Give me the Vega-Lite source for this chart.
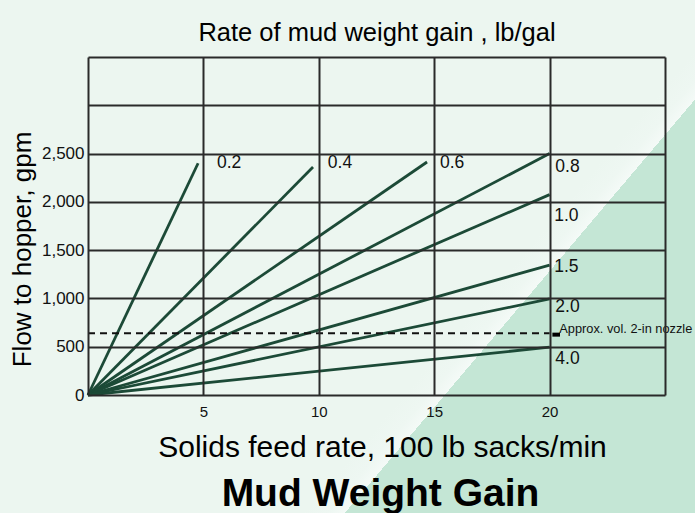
{
  "$schema": "https://vega.github.io/schema/vega-lite/v6.json",
  "width": 577,
  "height": 338,
  "autosize": {"type": "none"},
  "padding": {"left": 88, "top": 57, "right": 30, "bottom": 118},
  "background": "#edf6f1",
  "config": {
    "view": {"stroke": null},
    "font": "Liberation Sans, Arial",
    "text": {"font": "Liberation Sans, Arial"}
  },
  "title": {
    "text": "Mud Weight Gain",
    "orient": "bottom",
    "anchor": "middle",
    "fontSize": 39,
    "fontWeight": "bold",
    "font": "Liberation Sans, Arial",
    "color": "#000000",
    "offset": -38,
    "dx": 4
  },
  "datasets": {
    "lines": [
      {"gain": "0.2", "x": 0, "y": 0}, {"gain": "0.2", "x": 4.77, "y": 2400},
      {"gain": "0.4", "x": 0, "y": 0}, {"gain": "0.4", "x": 9.75, "y": 2360},
      {"gain": "0.6", "x": 0, "y": 0}, {"gain": "0.6", "x": 14.69, "y": 2413},
      {"gain": "0.8", "x": 0, "y": 0}, {"gain": "0.8", "x": 20, "y": 2500},
      {"gain": "1.0", "x": 0, "y": 0}, {"gain": "1.0", "x": 20, "y": 2075},
      {"gain": "1.5", "x": 0, "y": 0}, {"gain": "1.5", "x": 20, "y": 1345},
      {"gain": "2.0", "x": 0, "y": 0}, {"gain": "2.0", "x": 20, "y": 995},
      {"gain": "4.0", "x": 0, "y": 0}, {"gain": "4.0", "x": 20, "y": 495}
    ],
    "labels": [
      {"label": "0.2", "x": 5.59, "y": 2402},
      {"label": "0.4", "x": 10.39, "y": 2402},
      {"label": "0.6", "x": 15.25, "y": 2402},
      {"label": "0.8", "x": 20.25, "y": 2364},
      {"label": "1.0", "x": 20.2, "y": 1853},
      {"label": "1.5", "x": 20.2, "y": 1329},
      {"label": "2.0", "x": 20.25, "y": 914},
      {"label": "4.0", "x": 20.25, "y": 370}
    ],
    "note": [
      {"label": "Approx. vol. 2-in nozzle", "x": 20.42, "y": 683}
    ],
    "dashed": [{"x": 0, "x2": 20, "y": 640}],
    "marker": [{"x": 20.12, "x2": 20.45, "y": 625}]
  },
  "resolve": {"axis": {"x": "independent", "y": "independent"}},
  "layer": [
    {
      "data": {"values": [{}]},
      "mark": {
        "type": "rect",
        "fill": {
          "gradient": "linear",
          "x1": 0.7056, "y1": 0.5705, "x2": 0.7904, "y2": 0.6235,
          "stops": [
            {"offset": 0, "color": "#ecf6f0"},
            {"offset": 0.3, "color": "#eef7f2"},
            {"offset": 0.5, "color": "#f4faf7"},
            {"offset": 0.5, "color": "#c4e6d5"},
            {"offset": 1, "color": "#c4e6d5"}
          ]
        }
      },
      "encoding": {
        "x": {
          "datum": -3.8128, "type": "quantitative",
          "scale": {"domain": [0, 25], "nice": false, "zero": false},
          "axis": {
            "orient": "top",
            "title": "Rate of mud weight gain , lb/gal",
            "labels": false, "ticks": false, "domain": false, "grid": false,
            "titleFontSize": 25.5, "titleFontWeight": "normal",
            "titleFont": "Liberation Sans, Arial",
            "titleColor": "#000000", "titlePadding": 12, "zindex": 1
          }
        },
        "x2": {"datum": 26.3},
        "y": {
          "datum": 4090.2, "type": "quantitative",
          "scale": {"domain": [0, 3500], "nice": false, "zero": false},
          "axis": {
            "orient": "left",
            "values": [0, 500, 1000, 1500, 2000, 2500, 3000, 3500],
            "labelExpr": "datum.value > 2500 ? '' : format(datum.value, ',')",
            "grid": true, "gridColor": "#2a2a2a", "gridWidth": 2, "gridOpacity": 1,
            "ticks": false, "domain": false,
            "labelFontSize": 17, "labelPadding": 4, "labelColor": "#111111",
            "labelFlush": false, "labelOverlap": false,
            "title": "Flow to hopper, gpm",
            "titleFontSize": 26, "titleFontWeight": "normal", "titleColor": "#000000",
            "titleX": -66, "titleY": 192, "titleAngle": -90,
            "titleAlign": "center", "titleBaseline": "middle",
            "zindex": 1
          }
        },
        "y2": {"datum": -1221.9}
      }
    },
    {
      "data": {"name": "lines"},
      "mark": {"type": "line", "color": "#1c4a37", "strokeWidth": 2.8},
      "encoding": {
        "x": {
          "field": "x", "type": "quantitative",
          "scale": {"domain": [0, 25], "nice": false, "zero": false},
          "axis": {
            "orient": "bottom",
            "values": [0, 5, 10, 15, 20, 25],
            "labelExpr": "datum.value == 0 || datum.value == 25 ? '' : datum.label",
            "grid": true, "gridColor": "#2a2a2a", "gridWidth": 2, "gridOpacity": 1,
            "ticks": false, "domain": false,
            "labelFontSize": 15, "labelPadding": 9, "labelColor": "#111111",
            "labelFlush": false, "labelOverlap": false,
            "title": "Solids feed rate, 100 lb sacks/min",
            "titleFontSize": 30, "titleFontWeight": "normal", "titleColor": "#000000",
            "titleX": 294, "titlePadding": 13, "zindex": 1
          }
        },
        "y": {
          "field": "y", "type": "quantitative",
          "scale": {"domain": [0, 3500], "nice": false, "zero": false},
          "axis": null
        },
        "detail": {"field": "gain", "type": "nominal"}
      }
    },
    {
      "data": {"name": "dashed"},
      "mark": {"type": "rule", "color": "#111111", "strokeWidth": 2, "strokeDash": [7, 5]},
      "encoding": {
        "x": {"field": "x", "type": "quantitative", "scale": {"domain": [0, 25], "nice": false, "zero": false}, "axis": null},
        "x2": {"field": "x2"},
        "y": {"field": "y", "type": "quantitative", "scale": {"domain": [0, 3500], "nice": false, "zero": false}, "axis": null}
      }
    },
    {
      "data": {"name": "marker"},
      "mark": {"type": "rule", "color": "#000000", "strokeWidth": 4},
      "encoding": {
        "x": {"field": "x", "type": "quantitative", "scale": {"domain": [0, 25], "nice": false, "zero": false}, "axis": null},
        "x2": {"field": "x2"},
        "y": {"field": "y", "type": "quantitative", "scale": {"domain": [0, 3500], "nice": false, "zero": false}, "axis": null}
      }
    },
    {
      "data": {"name": "labels"},
      "mark": {"type": "text", "align": "left", "baseline": "middle", "fontSize": 17.5, "color": "#111111"},
      "encoding": {
        "x": {"field": "x", "type": "quantitative", "scale": {"domain": [0, 25], "nice": false, "zero": false}, "axis": null},
        "y": {"field": "y", "type": "quantitative", "scale": {"domain": [0, 3500], "nice": false, "zero": false}, "axis": null},
        "text": {"field": "label", "type": "nominal"}
      }
    },
    {
      "data": {"name": "note"},
      "mark": {"type": "text", "align": "left", "baseline": "middle", "fontSize": 12.8, "color": "#111111"},
      "encoding": {
        "x": {"field": "x", "type": "quantitative", "scale": {"domain": [0, 25], "nice": false, "zero": false}, "axis": null},
        "y": {"field": "y", "type": "quantitative", "scale": {"domain": [0, 3500], "nice": false, "zero": false}, "axis": null},
        "text": {"field": "label", "type": "nominal"}
      }
    }
  ]
}
